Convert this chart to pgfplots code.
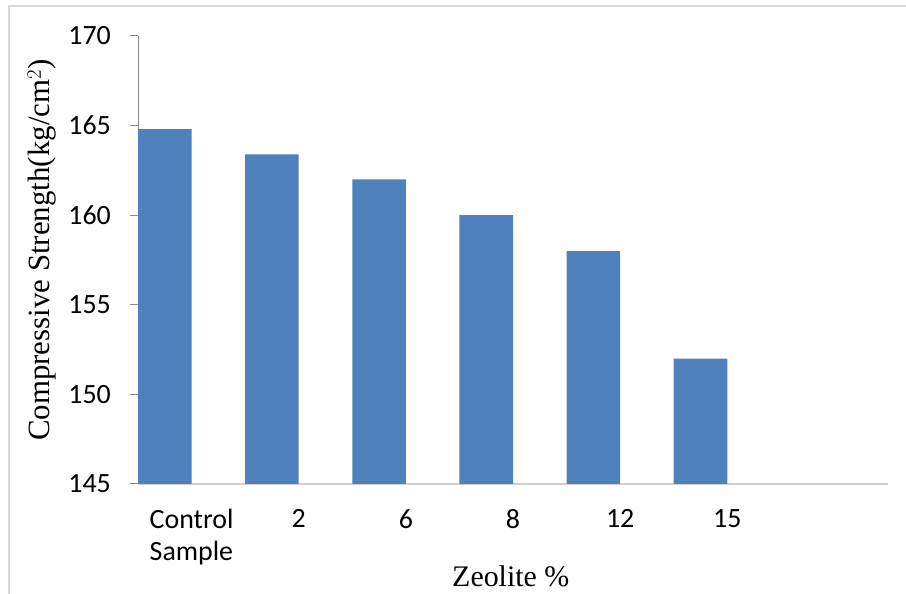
\documentclass[border=0pt]{standalone}
\usepackage{pgfplots}
\pgfplotsset{compat=1.18}
\usepackage{fontspec}
\setmainfont{Carlito}
\newfontfamily\timesf{Liberation Serif}
\definecolor{barblue}{HTML}{4F81BD}
\definecolor{yaxisgray}{HTML}{8C8C8C}
\definecolor{xaxisgray}{HTML}{D0D0D0}
\definecolor{framegray}{HTML}{D9D9D9}
\begin{document}
\begin{tikzpicture}[x=1bp,y=1bp]
\path[use as bounding box] (0,0) rectangle (906,594);
\draw[framegray, line width=1.2bp] (9,0) -- (9,588) -- (906,588);
\begin{axis}[
  at={(138bp,110bp)}, anchor=origin,
  scale only axis, width=750bp, height=448bp,
  xmin=0, xmax=7, ymin=145, ymax=170,
  axis x line*=bottom, axis y line*=left,
  x axis line style={xaxisgray, line width=1.2bp, -},
  y axis line style={yaxisgray, line width=1bp, -},
  ytick={145,150,...,170},
  xtick={0.5,1.5,2.5,3.5,4.5,5.5},
  xticklabels={{Control\\Sample},2,6,8,12,15},
  major x tick style={draw=none},
  major y tick style={yaxisgray, line width=1bp},
  tick align=outside, major tick length=8bp,
  /pgf/number format/assume math mode=true,
  tick label style={font=\fontsize{28}{32}\selectfont, black},
  yticklabel style={anchor=east, inner sep=0pt, xshift=-19bp},
  xticklabel style={align=left, anchor=north, inner sep=0pt, yshift=-17bp},
  ylabel={\timesf Compressive Strength(kg/cm$^{2}$)},
  ylabel style={at={(axis description cs:-0.128,0.522)}, rotate=0, anchor=center, font=\fontsize{31}{36}\selectfont},
  xlabel={\timesf Zeolite \%},
  xlabel style={at={(axis description cs:0.497,-0.2277)}, anchor=base, font=\fontsize{30}{36}\selectfont},
  ybar, bar width=0.5,
  clip=true,
]
\addplot[fill=barblue, draw=none] coordinates {
  (0.25,164.8) (1.25,163.4) (2.25,162.0) (3.25,160.0) (4.25,158.0) (5.25,152.0)
};
\end{axis}
\end{tikzpicture}
\end{document}
